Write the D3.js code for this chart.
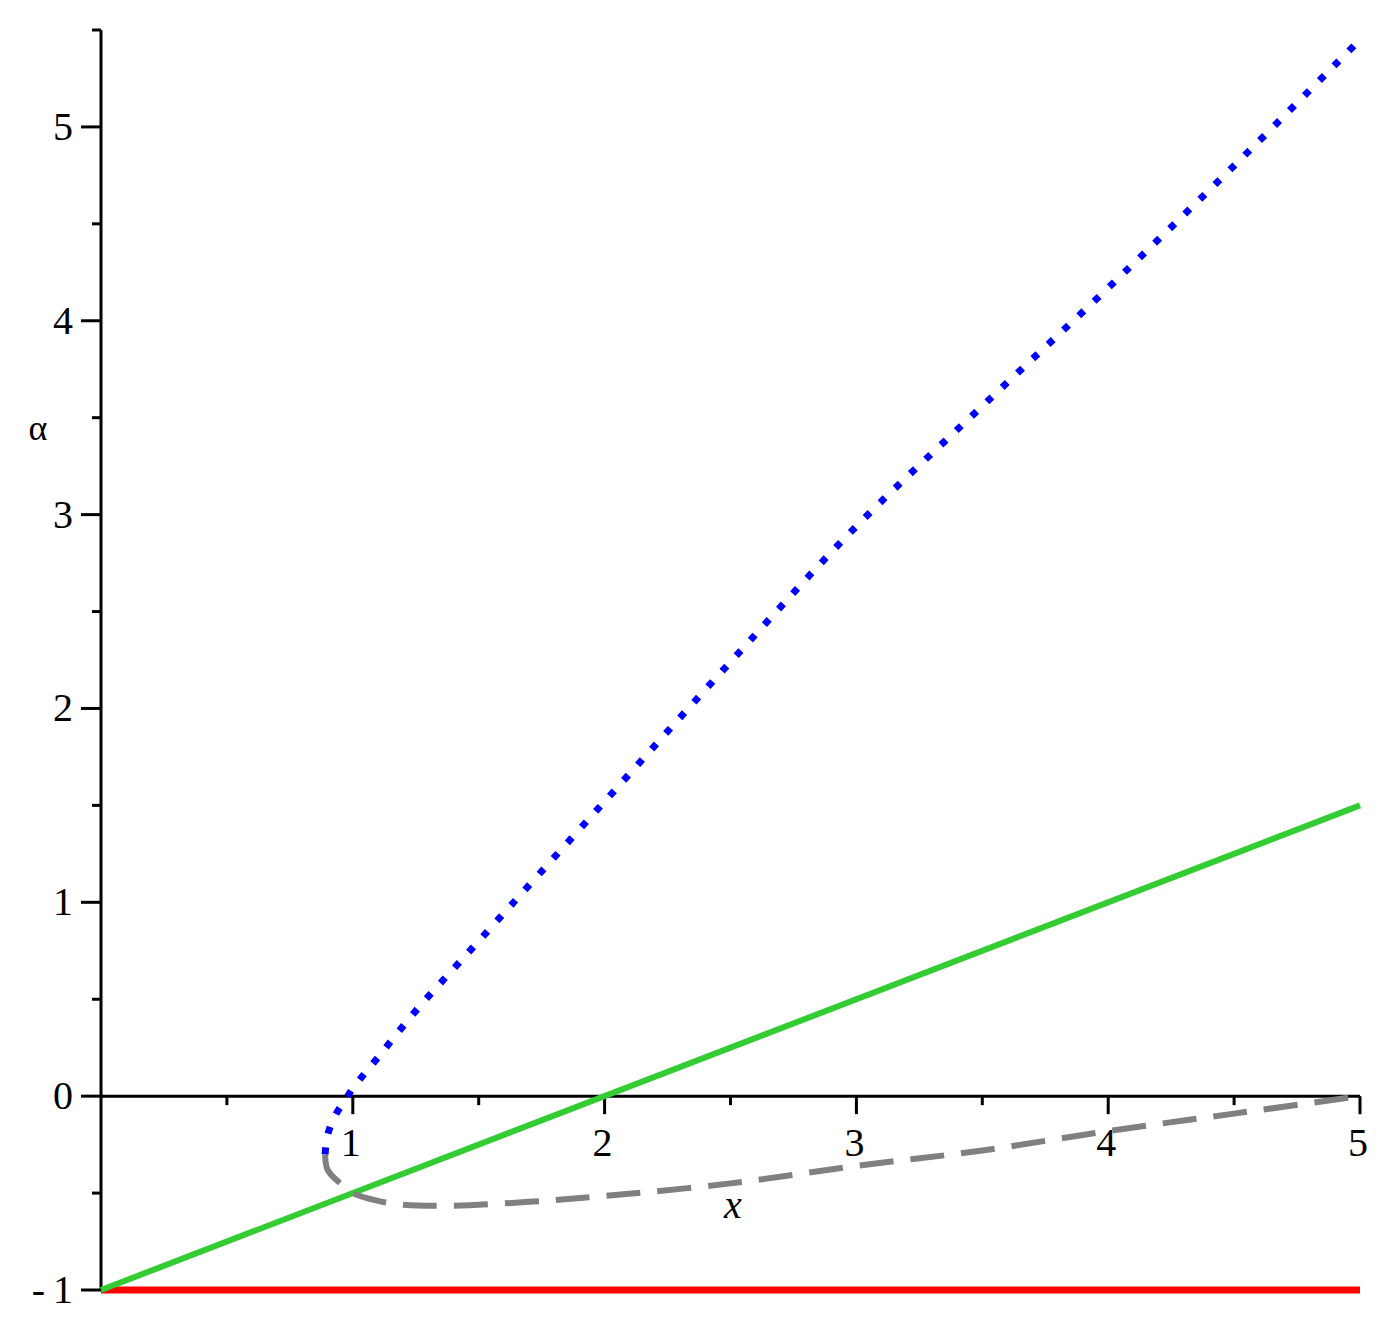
<!DOCTYPE html>
<html><head><meta charset="utf-8">
<script src="https://cdn.jsdelivr.net/npm/d3@7"></script>
<style>body{margin:0;background:#fff} text{font-family:"Liberation Serif","Times New Roman",serif}</style></head>
<body><svg id="c" width="1396" height="1336"></svg>
<script>
const redX=[0,5], redY=[-1,-1];
const greenX=[0,5], greenY=[-1,1.5];
const blueX=[0.89,0.9,0.93,0.97,1,1.1,1.25,1.5,2,2.5,3,3.5,4,4.5,5];
const blueY=[-0.3,-0.2,-0.1,-0.02,0.04,0.2,0.44,0.8,1.52,2.24,2.94,3.56,4.17,4.8,5.45];
const greyX=[0.89,0.9,0.95,1,1.1,1.2,1.4,1.7,2,2.5,3,3.5,4,4.5,5];
const greyY=[-0.3,-0.38,-0.45,-0.5,-0.54,-0.56,-0.565,-0.545,-0.515,-0.45,-0.36,-0.28,-0.18,-0.09,0];
const xTicks=[1,2,3,4,5], yTicks=[-1,0,1,2,3,4,5];

const svg=d3.select("#c");
const x=d3.scaleLinear().domain([0,5]).range([101,1360]);
const y=d3.scaleLinear().domain([-1,5.5]).range([1290,30]);
const zip=(a,b)=>a.map((v,i)=>[v,b[i]]);
const line=d3.line().x(d=>x(d[0])).y(d=>y(d[1]));
const lineC=d3.line().x(d=>x(d[0])).y(d=>y(d[1])).curve(d3.curveCatmullRom);

svg.append("line").attr("x1",x(0)).attr("x2",x(0)).attr("y1",y(5.5)).attr("y2",y(-1)).attr("stroke","#000").attr("stroke-width",3);
svg.append("line").attr("x1",x(0)).attr("x2",x(5)).attr("y1",y(0)).attr("y2",y(0)).attr("stroke","#000").attr("stroke-width",3);
d3.range(0.5,5.01,0.5).forEach(v=>{
  const major=Number.isInteger(v);
  svg.append("line").attr("x1",x(v)).attr("x2",x(v)).attr("y1",y(0)).attr("y2",y(0)+(major?18:9)).attr("stroke","#000").attr("stroke-width",3);
});
d3.range(-1,5.51,0.5).forEach(v=>{
  const major=Number.isInteger(v);
  svg.append("line").attr("x1",x(0)).attr("x2",x(0)-(major?20:9)).attr("y1",y(v)).attr("y2",y(v)).attr("stroke","#000").attr("stroke-width",3);
});
xTicks.forEach(v=>svg.append("text").attr("x",x(v)-2).attr("y",y(0)+60).attr("text-anchor","middle").attr("font-size",40).text(v));
yTicks.forEach(v=>svg.append("text").attr("x",x(0)-28).attr("y",y(v)+13).attr("text-anchor","end").attr("font-size",40).text(v<0?"-\u2009"+Math.abs(v):v));
svg.append("text").attr("x",38).attr("y",440).attr("text-anchor","middle").attr("font-size",36).text("α");
svg.append("text").attr("x",733).attr("y",1218).attr("text-anchor","middle").attr("font-style","italic").attr("font-size",40).text("x");

svg.append("path").attr("d",line(zip(redX,redY))).attr("fill","none").attr("stroke","#ff0000").attr("stroke-width",7);
svg.append("path").attr("d",line(zip(greenX,greenY))).attr("fill","none").attr("stroke","#33cc33").attr("stroke-width",6);
svg.append("path").attr("d",lineC(zip(greyX,greyY))).attr("fill","none").attr("stroke","#808080").attr("stroke-width",6).attr("stroke-dasharray","34,17");
svg.append("path").attr("d",lineC(zip(blueX,blueY))).attr("fill","none").attr("stroke","#0000ff").attr("stroke-width",7).attr("stroke-dasharray","7,14");
</script></body></html>
